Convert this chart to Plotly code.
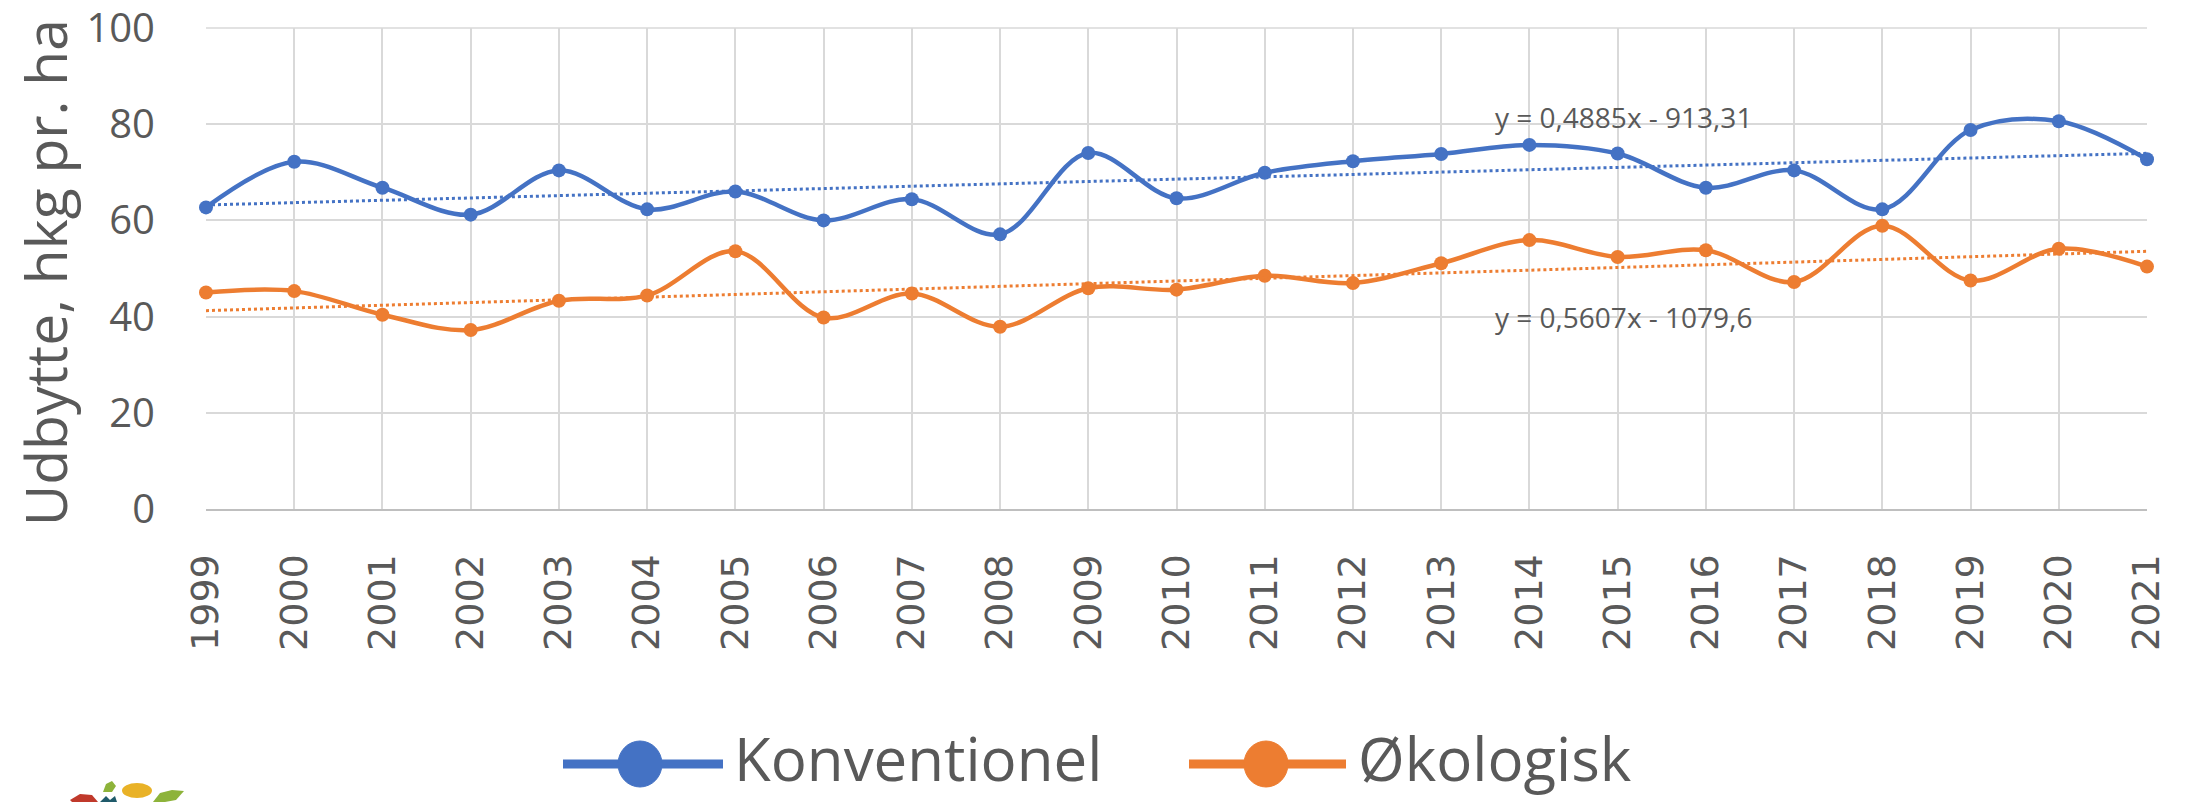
import plotly.graph_objects as go

years = list(range(1999, 2022))
konventionel = [62.7, 72.2, 66.8, 61.2, 70.4, 62.3, 66.0, 60.0, 64.4, 57.1, 74.0,
                64.6, 69.9, 72.3, 73.8, 75.7, 73.9, 66.8, 70.4, 62.3, 78.8, 80.6, 72.7]
okologisk = [45.0, 45.3, 40.4, 37.2, 43.3, 44.4, 53.6, 39.8, 44.8, 37.9, 45.9,
             45.6, 48.5, 47.0, 51.1, 55.9, 52.4, 53.8, 47.2, 58.9, 47.5, 54.1, 50.4]
series_names = ["Konventionel", "Økologisk"]
colors = ["#4472C4", "#ED7D31"]
# trend line coefficients as printed in the chart
trend_slope = [0.4885, 0.5607]
trend_intercept = [-913.31, -1079.6]
trend_labels = ["y = 0,4885x - 913,31", "y = 0,5607x - 1079,6"]
y_ticks = [0, 20, 40, 60, 80, 100]

W, H = 2185, 802
# plot area in page pixels
L, R, T, B = 206, 2147, 28, 509


def px(x):
    return (x - L) / (R - L)


def py(y):
    return (B - y) / (B - T)


fig = go.Figure()
for name, vals, col in zip(series_names, [konventionel, okologisk], colors):
    fig.add_trace(go.Scatter(
        x=years, y=vals, name=name, mode="lines+markers",
        line=dict(color=col, width=4.5, shape="spline", smoothing=1.0),
        marker=dict(color=col, size=14), cliponaxis=False, showlegend=False))

for slope, icpt, col in zip(trend_slope, trend_intercept, colors):
    xs = [years[0], years[-1]]
    fig.add_trace(go.Scatter(
        x=xs, y=[slope * x + icpt for x in xs], mode="lines",
        line=dict(color=col, width=3, dash="dot"), showlegend=False,
        hoverinfo="skip"))

# trend equation labels (positions in data space)
label_pos = [(2015.07, 81.6), (2015.07, 40.0)]
annotations = []
for txt, (lx, ly) in zip(trend_labels, label_pos):
    annotations.append(dict(x=lx, y=ly, xref="x", yref="y", text=txt, showarrow=False,
                            font=dict(family="Open Sans", size=28, color="#595959"),
                            xanchor="center", yanchor="middle"))

# y-axis title
annotations.append(dict(x=px(45), y=0.49, xref="paper", yref="paper",
                        text="Udbytte, hkg pr. ha", textangle=-90, showarrow=False,
                        font=dict(family="Open Sans", size=57, color="#595959"),
                        xanchor="center", yanchor="middle"))

shapes = []
# top frame line of the plot area (gridline at 100)
shapes.append(dict(type="line", xref="paper", yref="paper", x0=0, x1=1, y0=1, y1=1,
                   line=dict(color="#d9d9d9", width=1.5), layer="below"))

# custom legend (page pixel positions)
legend_items = [(563, 723, 640, 732), (1189, 1346, 1266, 1356)]
ly_px = 764
for name, col, (x0, x1, cx, tx) in zip(series_names, colors, legend_items):
    shapes.append(dict(type="line", xref="paper", yref="paper",
                       x0=px(x0), x1=px(x1), y0=py(ly_px), y1=py(ly_px),
                       line=dict(color=col, width=9)))
    shapes.append(dict(type="circle", xref="paper", yref="paper",
                       x0=px(cx - 22), x1=px(cx + 22), y0=py(ly_px - 23), y1=py(ly_px + 23),
                       fillcolor=col, line=dict(color=col, width=1)))
    annotations.append(dict(x=px(tx), y=py(801), xref="paper", yref="paper", text=name,
                            showarrow=False, xanchor="left", yanchor="bottom",
                            font=dict(family="Open Sans", size=60, color="#595959")))


# small logo fragment at bottom left
def pth(points):
    return "M " + " L ".join(f"{px(x)},{py(y)}" for x, y in points) + " Z"


logo = [
    ([(70, 800), (80, 794), (92, 795), (98, 802), (72, 802)], "#C0392B"),
    ([(103, 792), (106, 784), (112, 781), (116, 786), (112, 792)], "#8DB33A"),
    ([(100, 802), (106, 796), (110, 800), (115, 796), (117, 802)], "#1F5A6A"),
    ([(153, 802), (160, 793), (172, 790), (184, 791), (176, 800), (165, 802)], "#8DB33A"),
]
for pts, col in logo:
    shapes.append(dict(type="path", xref="paper", yref="paper", path=pth(pts),
                       fillcolor=col, line=dict(width=0)))
shapes.append(dict(type="circle", xref="paper", yref="paper",
                   x0=px(122), x1=px(152), y0=py(798), y1=py(783),
                   fillcolor="#E9B227", line=dict(width=0)))

fig.update_layout(
    width=W, height=H,
    margin=dict(l=L, r=W - R, t=T, b=H - B, autoexpand=False),
    plot_bgcolor="white", paper_bgcolor="white",
    showlegend=False,
    annotations=annotations, shapes=shapes,
    xaxis=dict(range=[years[0], years[-1]], tickvals=years, ticktext=[str(y) for y in years],
               tickangle=-90, tickfont=dict(family="DejaVu Sans", size=38, color="#595959"),
               showgrid=True, gridcolor="#d9d9d9", gridwidth=1.5,
               showline=True, linecolor="#bfbfbf", linewidth=2,
               ticks="outside", ticklen=28, tickcolor="rgba(0,0,0,0)", zeroline=False,
               automargin=False),
    yaxis=dict(range=[0, 100], tickvals=y_ticks,
               tickfont=dict(family="Open Sans", size=40, color="#595959"),
               showgrid=True, gridcolor="#d9d9d9", gridwidth=1.5,
               showline=False, ticks="outside", ticklen=42, tickcolor="rgba(0,0,0,0)",
               ticklabeloverflow="allow", zeroline=False, automargin=False),
)

fig.write_html("out.html", config={"displayModeBar": False},
               post_script="document.body.style.margin='0';document.body.style.overflow='hidden';")
